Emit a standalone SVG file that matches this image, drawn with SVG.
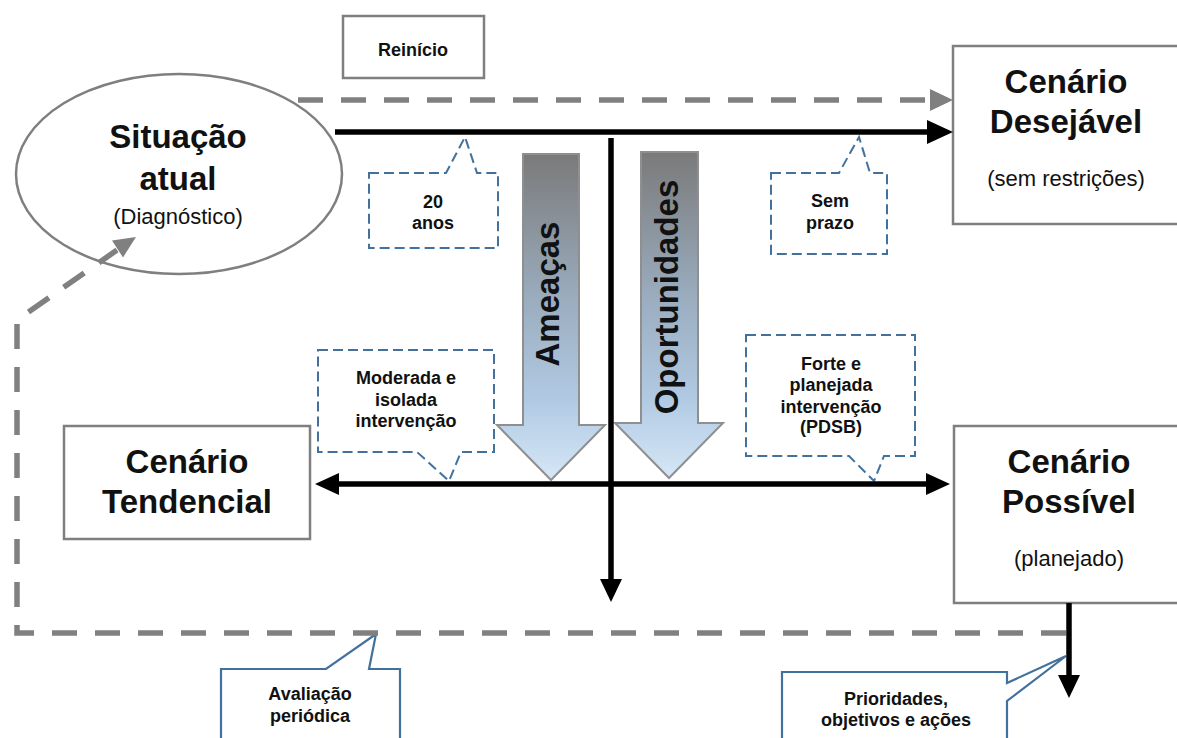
<svg xmlns="http://www.w3.org/2000/svg" width="1177" height="738" viewBox="0 0 1177 738">
<defs>
<style>
.node{fill:#fff;stroke:#7f7f7f;stroke-width:2.5}
.big{font-family:"Liberation Sans",Arial,sans-serif;font-weight:bold;font-size:33px;fill:#111;text-anchor:middle}
.sub{font-family:"Liberation Sans",Arial,sans-serif;font-size:22px;fill:#111;text-anchor:middle}
.small{font-family:"Liberation Sans",Arial,sans-serif;font-weight:bold;font-size:18px;fill:#111;text-anchor:middle}
.dcall{fill:#fff;stroke:#41719c;stroke-width:2;stroke-dasharray:10 5}
.scall{fill:#fff;stroke:#41719c;stroke-width:2.2}
.blk{stroke:#000;stroke-width:5.5;fill:none}
.gdash{stroke:#808080;stroke-width:5.5;fill:none;stroke-dasharray:25 18}
.bigarrow{fill:url(#grad);stroke:#8f8f8f;stroke-width:2}
</style>
<linearGradient id="grad" x1="0" y1="0" x2="0" y2="1">
<stop offset="0" stop-color="#7a7a7a"/>
<stop offset="0.45" stop-color="#9badbf"/>
<stop offset="0.75" stop-color="#b0c9e2"/>
<stop offset="1" stop-color="#d6e7f7"/>
</linearGradient>
</defs>
<rect width="1177" height="738" fill="#fff"/>

<g id="node-situacao">
<ellipse class="node" cx="179" cy="174" rx="163" ry="100" stroke-width="2"/>
<text class="big" x="178" y="148">Situação</text>
<text class="big" x="178" y="190">atual</text>
<text class="sub" x="178" y="224">(Diagnóstico)</text>
</g>

<g id="node-reinicio">
<rect class="node" x="343" y="16" width="141" height="62"/>
<text class="small" x="413" y="56">Reinício</text>
</g>

<g id="node-desejavel">
<rect class="node" x="953" y="46" width="226" height="178"/>
<text class="big" x="1066" y="93">Cenário</text>
<text class="big" x="1066" y="133">Desejável</text>
<text class="sub" x="1066" y="186">(sem restrições)</text>
</g>

<g id="node-tendencial">
<rect class="node" x="64" y="426" width="246" height="113"/>
<text class="big" x="187" y="473">Cenário</text>
<text class="big" x="187" y="513">Tendencial</text>
</g>

<g id="node-possivel">
<rect class="node" x="954" y="426" width="229" height="177"/>
<text class="big" x="1069" y="473">Cenário</text>
<text class="big" x="1069" y="513">Possível</text>
<text class="sub" x="1069" y="566">(planejado)</text>
</g>

<g id="node-ameacas">
<path class="bigarrow" d="M523,154 H579 V425 H605 L551,480 L497,425 H523 Z"/>
<text class="big" transform="translate(559,294) rotate(-90)">Ameaças</text>
</g>

<g id="node-oportunidades">
<path class="bigarrow" d="M641,152 H698 V423 H723 L669,478 L615,423 H641 Z"/>
<text class="big" transform="translate(678,297) rotate(-90)">Oportunidades</text>
</g>

<g id="callout-20anos">
<path class="dcall" d="M369,173 H446 L465,137 L477,173 H498 V248 H369 Z"/>
<text class="small" x="433" y="208">20</text>
<text class="small" x="433" y="229">anos</text>
</g>

<g id="callout-semprazo">
<path class="dcall" d="M771,173 H839 L859,137 L870,173 H887 V254 H771 Z"/>
<text class="small" x="830" y="207">Sem</text>
<text class="small" x="830" y="229">prazo</text>
</g>

<g id="callout-moderada">
<path class="dcall" d="M318,350 H494 V452 H461 L449,481 L417,452 H318 Z"/>
<text class="small" x="406" y="384">Moderada e</text>
<text class="small" x="406" y="406">isolada</text>
<text class="small" x="406" y="427">intervenção</text>
</g>

<g id="callout-forte">
<path class="dcall" d="M746,335 H915 V456 H884 L874,481 L849,456 H746 Z"/>
<text class="small" x="831" y="370">Forte e</text>
<text class="small" x="831" y="391">planejada</text>
<text class="small" x="831" y="413">intervenção</text>
<text class="small" x="831" y="433">(PDSB)</text>
</g>

<g id="callout-avaliacao">
<path class="scall" d="M221,669 H326 L376,634 L369,669 H400 V760 H221 Z"/>
<text class="small" x="310" y="700">Avaliação</text>
<text class="small" x="310" y="722">periódica</text>
</g>

<g id="callout-prioridades">
<path class="scall" d="M782,672 H1007 V683 L1066,656 L1007,701 V760 H782 Z"/>
<text class="small" x="896" y="705">Prioridades,</text>
<text class="small" x="896" y="726">objetivos e ações</text>
</g>

<g id="connectors">
<path class="gdash" d="M298,100 H930"/>
<polygon fill="#808080" points="930,89 953,100 930,111"/>
<path class="blk" d="M335,132 H929"/>
<polygon fill="#000" points="927,120 953,132 927,144"/>
<path class="blk" d="M611,138 V582"/>
<polygon fill="#000" points="600,579 611,602 622,579"/>
<path class="blk" d="M337,484 H929"/>
<polygon fill="#000" points="339,473 315,484 339,495"/>
<polygon fill="#000" points="926,473 950,484 926,495"/>
<path class="gdash" d="M1066,633 H17 V320 L117,250"/>
<polygon fill="#808080" points="112,240.6 136,237 123,257.4"/>
<path class="blk" d="M1069,603 V678"/>
<polygon fill="#000" points="1058,675 1069,698 1080,675"/>
</g>
</svg>
